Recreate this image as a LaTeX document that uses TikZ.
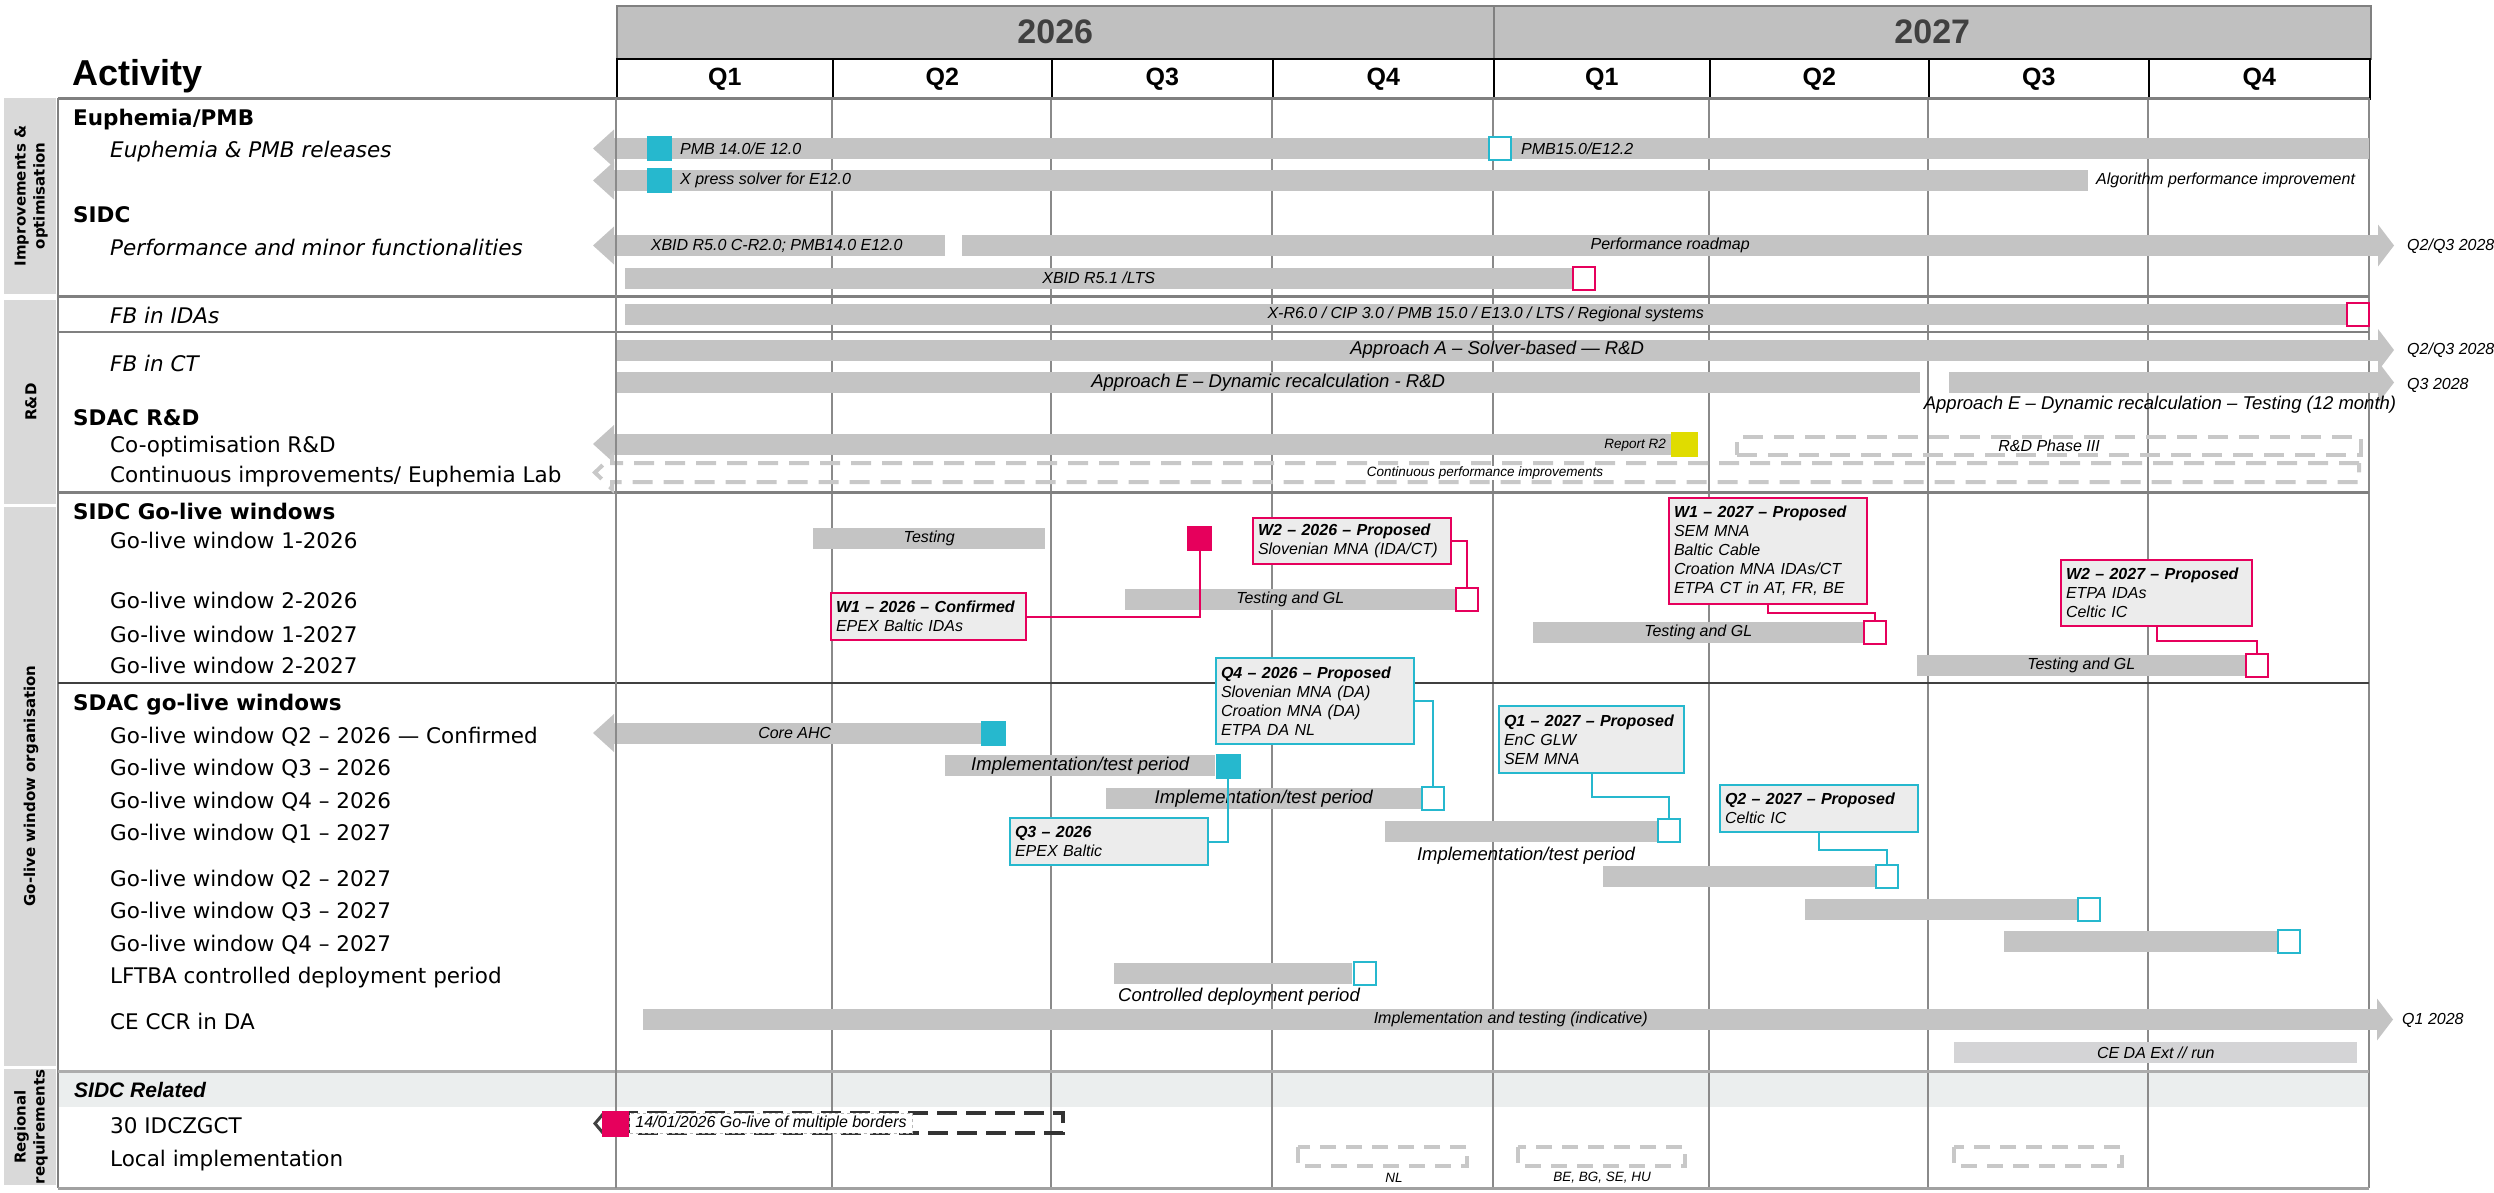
\documentclass[tikz,border=0pt]{standalone}
\usepackage{fontspec}
\setmainfont{DejaVu Sans}
\newfontfamily\arialf{Liberation Sans}
\definecolor{barg}{HTML}{C4C4C4}
\definecolor{tealc}{HTML}{26B8CE}
\definecolor{magc}{HTML}{E6005C}
\definecolor{yelc}{HTML}{E0DC00}
\definecolor{boxf}{HTML}{ECECEC}
\definecolor{bandf}{HTML}{D9D9D9}
\definecolor{regf}{HTML}{EBEEEE}
\definecolor{dashg}{HTML}{C8C8C8}
\definecolor{yearf}{HTML}{C0C0C0}
\definecolor{yeart}{HTML}{404040}
\definecolor{gridc}{HTML}{8A8A8A}
\definecolor{sepc}{HTML}{808080}
\definecolor{extf}{HTML}{D4D4D6}
\definecolor{darkd}{HTML}{333333}

\newcommand\lblfont{\fontsize{21.5}{24}\selectfont}
\newcommand\barfont{\arialf\itshape\fontsize{16}{18}\selectfont}
\newcommand\widefont{\arialf\itshape\fontsize{18.5}{20}\selectfont}
\newcommand\boxfont{\arialf\itshape\fontsize{16}{19}\selectfont}
\newcommand\smallfont{\arialf\itshape\fontsize{13.5}{15}\selectfont}
\newcommand\leftHead[1]{\fill[barg] (614,#1-19) -- (593,#1) -- (614,#1+19) -- cycle;}
\newcommand\rightHead[2]{\fill[barg] (#1,#2-21) -- (#1+16,#2) -- (#1,#2+21) -- cycle;}

\tikzset{
 bar/.style={fill=barg, draw=none, inner sep=0pt, minimum height=21pt, font=\barfont, anchor=west},
 wbar/.style={bar, font=\widefont},
 btxt/.style={inner sep=0pt, font=\barfont},
 wtxt/.style={inner sep=0pt, font=\widefont},
 stxt/.style={inner sep=0pt, font=\smallfont},
 sqf/.style={fill=#1, draw=#1, line width=1pt, inner sep=0pt, minimum width=24pt, minimum height=24pt},
 sqo/.style={fill=white, draw=#1, line width=2pt, inner sep=0pt, minimum width=22pt, minimum height=23pt},
 callout/.style={fill=boxf, draw=#1, line width=2pt, inner xsep=5pt, inner ysep=0pt, align=left, font=\boxfont, anchor=north west},
 conn/.style={draw=#1, line width=2pt},
 lbl/.style={font=\lblfont, anchor=base west, inner sep=0pt},
 hdrlbl/.style={font=\lblfont\bfseries, anchor=base west, inner sep=0pt},
 ilbl/.style={font=\lblfont\itshape, anchor=base west, inner sep=0pt},
 bandfill/.style={fill=bandf, draw=none},
 bandtxt/.style={rotate=90, font=\bfseries\fontsize{15}{19}\selectfont, align=center, inner sep=0pt},
 dashln/.style={draw=dashg, line width=4pt, dash pattern=on 20pt off 11pt},
 sepline/.style={draw=sepc, line width=#1},
 gridln/.style={draw=gridc, line width=1.2pt},
 qcell/.style={draw=black, line width=1.5pt, fill=white, inner sep=0pt, minimum height=40pt, anchor=north west, font=\arialf\bfseries\fontsize{25}{27}\selectfont},
 ycell/.style={draw=sepc, line width=1.5pt, fill=yearf, inner sep=0pt, minimum height=53pt, minimum width=877pt, anchor=north west, text=yeart, font=\arialf\bfseries\fontsize{34}{36}\selectfont},
}

\begin{document}
\begin{tikzpicture}[x=1pt,y=-1pt]
\useasboundingbox (0,0) rectangle (2494,1192);

% ---------- left category bands ----------
\fill[bandfill] (4,98) rectangle (56,294);
\fill[bandfill] (4,300) rectangle (56,504);
\fill[bandfill] (4,507) rectangle (56,1066);
\fill[bandfill] (4,1069) rectangle (56,1185);
\node[bandtxt] (c1) at (31,196) {Improvements \&\\optimisation};
\node[bandtxt] (c2) at (31,402) {R\&D};
\node[bandtxt] (c3) at (31,786) {Go-live window organisation};
\node[bandtxt] (c4) at (31,1127) {Regional\\requirements};

% ---------- header ----------
\node[font=\arialf\bfseries\fontsize{36}{38}\selectfont, anchor=base west, inner sep=0pt] (act) at (72,85) {Activity};
\node[ycell] (y26) at (616,5) {2026};
\node[ycell] (y27) at (1493,5) {2027};
\foreach \a/\b/\t [count=\i] in {616/832/Q1, 832/1051/Q2, 1051/1272/Q3, 1272/1493/Q4, 1493/1709/Q1, 1709/1928/Q2, 1928/2148/Q3, 2148/2369/Q4}
 {\pgfmathsetmacro\w{\b-\a}
  \node[qcell, minimum width=\w pt] (q\i) at (\a,58) {\t};}

% ---------- regional band ----------
\fill[regf] (58,1071) rectangle (2369,1107);

% ---------- grid ----------
\foreach \x in {616,832,1051,1272,1493,1709,1928,2148,2369}
  \draw[gridln] (\x,98) -- (\x,1188);
\draw[sepline=2pt] (58,98) -- (58,1188);
\draw[sepline=3pt] (58,98) -- (2369,98);
\draw[sepline=3pt] (58,296) -- (2369,296);
\draw[sepline=2pt] (58,332) -- (2369,332);
\draw[sepline=3pt] (58,492) -- (2369,492);
\draw[draw=yeart, line width=1.5pt] (58,683) -- (2369,683);
\draw[draw=gridc!70, line width=3pt] (58,1071) -- (2369,1071);
\draw[draw=gridc!80, line width=3pt] (58,1188) -- (2369,1188);

% ---------- left labels ----------
\node[hdrlbl] (h1) at (73,125) {Euphemia/PMB};
\node[ilbl] (l1) at (110,157) {Euphemia \& PMB releases};
\node[hdrlbl] (h2) at (73,222) {SIDC};
\node[ilbl] (l2) at (110,255) {Performance and minor functionalities};
\node[ilbl] (l3) at (110,323) {FB in IDAs};
\node[ilbl] (l4) at (110,371) {FB in CT};
\node[hdrlbl] (h3) at (73,425) {SDAC R\&D};
\node[hdrlbl] (h4) at (73,519) {SIDC Go-live windows};
\node[hdrlbl] (h5) at (73,710) {SDAC go-live windows};
\foreach \t/\y [count=\i] in {Co-optimisation R\&D/452, {Continuous improvements/ Euphemia Lab}/482,
  Go-live window 1-2026/548, Go-live window 2-2026/608, Go-live window 1-2027/642, Go-live window 2-2027/673,
  Go-live window Q2 – 2026 — Confirmed/743, Go-live window Q3 – 2026/775, Go-live window Q4 – 2026/808,
  Go-live window Q1 – 2027/840, Go-live window Q2 – 2027/886, Go-live window Q3 – 2027/918,
  Go-live window Q4 – 2027/951, LFTBA controlled deployment period/983, CE CCR in DA/1029,
  30 IDCZGCT/1133, Local implementation/1166}
  \node[lbl] (r\i) at (110,\y) {\t};
\node[font=\arialf\bfseries\itshape\fontsize{21}{23}\selectfont, anchor=base west, inner sep=0pt] (h6) at (74,1097) {SIDC Related};

% ---------- Euphemia / PMB ----------
\leftHead{148.5}
\node[bar, minimum width=1761pt] (b1) at (608,148.5) {};
\node[btxt, anchor=west] (t1) at (680,148.5) {PMB 14.0/E 12.0};
\node[sqf=tealc] (s1) at (659,148) {};
\node[sqo=tealc] (s2) at (1500,148) {};
\node[btxt, anchor=west] (t2) at (1521,148.5) {PMB15.0/E12.2};

\leftHead{180.5}
\node[bar, minimum width=1480pt] (b2) at (608,180.5) {};
\node[btxt, anchor=west] (t3) at (680,180.5) {X press solver for E12.0};
\node[sqf=tealc] (s3) at (659,180.5) {};
\node[btxt, anchor=west] (t4) at (2096,180.5) {Algorithm performance improvement};

% ---------- SIDC performance ----------
\leftHead{245.5}
\node[bar, minimum width=337pt] (b3) at (608,245.5) {XBID R5.0 C-R2.0; PMB14.0 E12.0};
\rightHead{2378}{245.5}
\node[bar, minimum width=1416pt] (b4) at (962,245.5) {Performance roadmap};
\node[btxt, anchor=west] (t5) at (2407,246) {Q2/Q3 2028};
\node[bar, minimum width=947pt] (b5) at (625,278) {XBID R5.1 /LTS};
\node[sqo=magc] (s4) at (1584,278.5) {};

% ---------- R&D ----------
\node[bar, minimum width=1721pt] (b6) at (625,314) {X-R6.0 / CIP 3.0 / PMB 15.0 / E13.0 / LTS / Regional systems};
\node[sqo=magc] (s5) at (2358,314.5) {};
\rightHead{2378}{350}
\node[wbar, minimum width=1762pt] (b7) at (616,350) {Approach A – Solver-based — R\&D};
\node[btxt, anchor=west] (t6) at (2407,350) {Q2/Q3 2028};
\node[wbar, minimum width=1304pt] (b8) at (616,382.5) {Approach E – Dynamic recalculation - R\&D};
\rightHead{2378}{382.5}
\node[bar, minimum width=429pt] (b9) at (1949,382.5) {};
\node[btxt, anchor=west] (t7) at (2407,385) {Q3 2028};
\node[wtxt] (t8) at (2160,405) {Approach E – Dynamic recalculation – Testing (12 month)};

\leftHead{444}
\node[bar, minimum width=1063pt] (b10) at (608,444) {};
\node[stxt, anchor=east] (t9) at (1666,445) {Report R2};
\node[sqf=yelc, minimum width=26pt] (s6) at (1684.5,444.5) {};
\node[dashln, inner sep=0pt, minimum width=624pt, minimum height=18pt, anchor=north west, font=\barfont] (rd3) at (1735,435) {R\&D Phase III};
\draw[dashln] (2359,463) -- (612,463) -- (612,456) -- (595,472.5) -- (612,489) -- (612,482) -- (2359,482) -- cycle;
\node[stxt, fill=white, inner sep=1pt] (t10) at (1485,473) {Continuous performance improvements};

% ---------- SIDC go-live windows ----------
\node[bar, minimum width=232pt] (b11) at (813,538.5) {Testing};
\node[sqf=magc] (m1) at (1199.5,538.5) {};
\node[callout=magc, minimum width=198pt, minimum height=46pt, text width=188pt] (w226) at (1252,517)
  {\textbf{W2 – 2026 – Proposed}\\Slovenian MNA (IDA/CT)};
\node[bar, minimum width=330pt] (b12) at (1125,599.5) {Testing and GL};
\node[sqo=magc] (m2) at (1467,599.5) {};
\node[callout=magc, minimum width=195pt, minimum height=47pt, text width=185pt] (w126) at (830,592)
  {\textbf{W1 – 2026 – Confirmed}\\EPEX Baltic IDAs};
\node[callout=magc, minimum width=198pt, minimum height=106pt, text width=188pt] (w127) at (1668,497)
  {\textbf{W1 – 2027 – Proposed}\\SEM MNA\\Baltic Cable\\Croation MNA IDAs/CT\\ETPA CT in AT, FR, BE};
\node[bar, minimum width=330pt] (b13) at (1533,632.5) {Testing and GL};
\node[sqo=magc] (m3) at (1875,632) {};
\node[callout=magc, minimum width=191pt, minimum height=66pt, text width=181pt] (w227) at (2060,559)
  {\textbf{W2 – 2027 – Proposed}\\ETPA IDAs\\Celtic IC};
\node[bar, minimum width=328pt] (b14) at (1917,665.5) {Testing and GL};
\node[sqo=magc] (m4) at (2257,665) {};

\draw[conn=magc] (w226.east) -| (m2.north);
\draw[conn=magc] (w126.east) -| (m1.south);
\draw[conn=magc] (w127.south) -- ++(0,8) -| (m3.north);
\draw[conn=magc] (w227.south) -- ++(0,14) -| (m4.north);

% ---------- SDAC go-live windows ----------
\node[callout=tealc, minimum width=198pt, minimum height=86pt, text width=188pt] (q426) at (1215,657)
  {\textbf{Q4 – 2026 – Proposed}\\Slovenian MNA (DA)\\Croation MNA (DA)\\ETPA DA NL};
\leftHead{733}
\node[bar, minimum width=373pt] (b15) at (608,733) {Core AHC};
\node[sqf=tealc] (k1) at (993.5,733) {};
\node[wbar, minimum width=270pt] (b16) at (945,765.5) {Implementation/test period};
\node[sqf=tealc] (k2) at (1228,766) {};
\node[callout=tealc, minimum width=198pt, minimum height=47pt, text width=188pt] (q326) at (1009,817)
  {\textbf{Q3 – 2026}\\EPEX Baltic};
\node[wbar, minimum width=315pt] (b17) at (1106,798.5) {Implementation/test period};
\node[sqo=tealc] (k3) at (1433,798.5) {};
\node[bar, minimum width=272pt] (b18) at (1385,831.5) {};
\node[sqo=tealc] (k4) at (1669,830.5) {};
\node[wtxt] (t11) at (1526,856) {Implementation/test period};
\node[callout=tealc, minimum width=185pt, minimum height=67pt, text width=175pt] (q127) at (1498,705)
  {\textbf{Q1 – 2027 – Proposed}\\EnC GLW\\SEM MNA};
\node[callout=tealc, minimum width=198pt, minimum height=47pt, text width=188pt] (q227) at (1719,784)
  {\textbf{Q2 – 2027 – Proposed}\\Celtic IC};
\node[bar, minimum width=272pt] (b19) at (1603,876.5) {};
\node[sqo=tealc] (k5) at (1887,876.5) {};
\node[bar, minimum width=272pt] (b20) at (1805,909.5) {};
\node[sqo=tealc] (k6) at (2089,909) {};
\node[bar, minimum width=273pt] (b21) at (2004,941.5) {};
\node[sqo=tealc] (k7) at (2289,941.5) {};
\node[bar, minimum width=238pt] (b22) at (1114,973.5) {};
\node[sqo=tealc] (k8) at (1364.5,973.5) {};
\node[wtxt] (t12) at (1239,997) {Controlled deployment period};
\rightHead{2377}{1019.5}
\node[bar, minimum width=1735pt] (b23) at (643,1019.5) {Implementation and testing (indicative)};
\node[btxt, anchor=west] (t13) at (2402,1020) {Q1 2028};
\node[bar, fill=extf, minimum width=403pt] (b24) at (1954,1052.5) {CE DA Ext // run};

\draw[conn=tealc] (q426.east) -| (k3.north);
\draw[conn=tealc] (k2.south) |- (q326.east);
\draw[conn=tealc] (q127.south) -- ++(0,23) -| (k4.north);
\draw[conn=tealc] (q227.south) -- ++(0,17) -| (k5.north);

% left chart border on top of bars
\draw[gridln] (616,98) -- (616,1188);

% ---------- Regional ----------
\draw[draw=darkd, line width=3.5pt, dash pattern=on 20pt off 9pt] (629,1113) rectangle (1063,1133);
\node[draw=gridc!60, dashed, line width=1pt, fill=white, anchor=west, minimum width=283pt, minimum height=20pt, inner sep=1pt, font=\barfont] (gl) at (629,1123) {14/01/2026 Go-live of multiple borders};
\draw[draw=yeart, line width=3pt] (603,1114) -- (595,1123.5) -- (603,1133);
\node[sqf=magc, minimum width=26pt, minimum height=25pt] (m5) at (615.5,1124) {};

\draw[dashln, dash pattern=on 16pt off 10pt] (1298,1147) rectangle (1467,1166);
\draw[dashln, dash pattern=on 16pt off 10pt] (1518,1147) rectangle (1685,1166);
\draw[dashln, dash pattern=on 16pt off 10pt] (1954,1147) rectangle (2122,1166);
\node[stxt] (t14) at (1394,1178) {NL};
\node[stxt] (t15) at (1602,1178) {BE, BG, SE, HU};
\end{tikzpicture}
\end{document}
